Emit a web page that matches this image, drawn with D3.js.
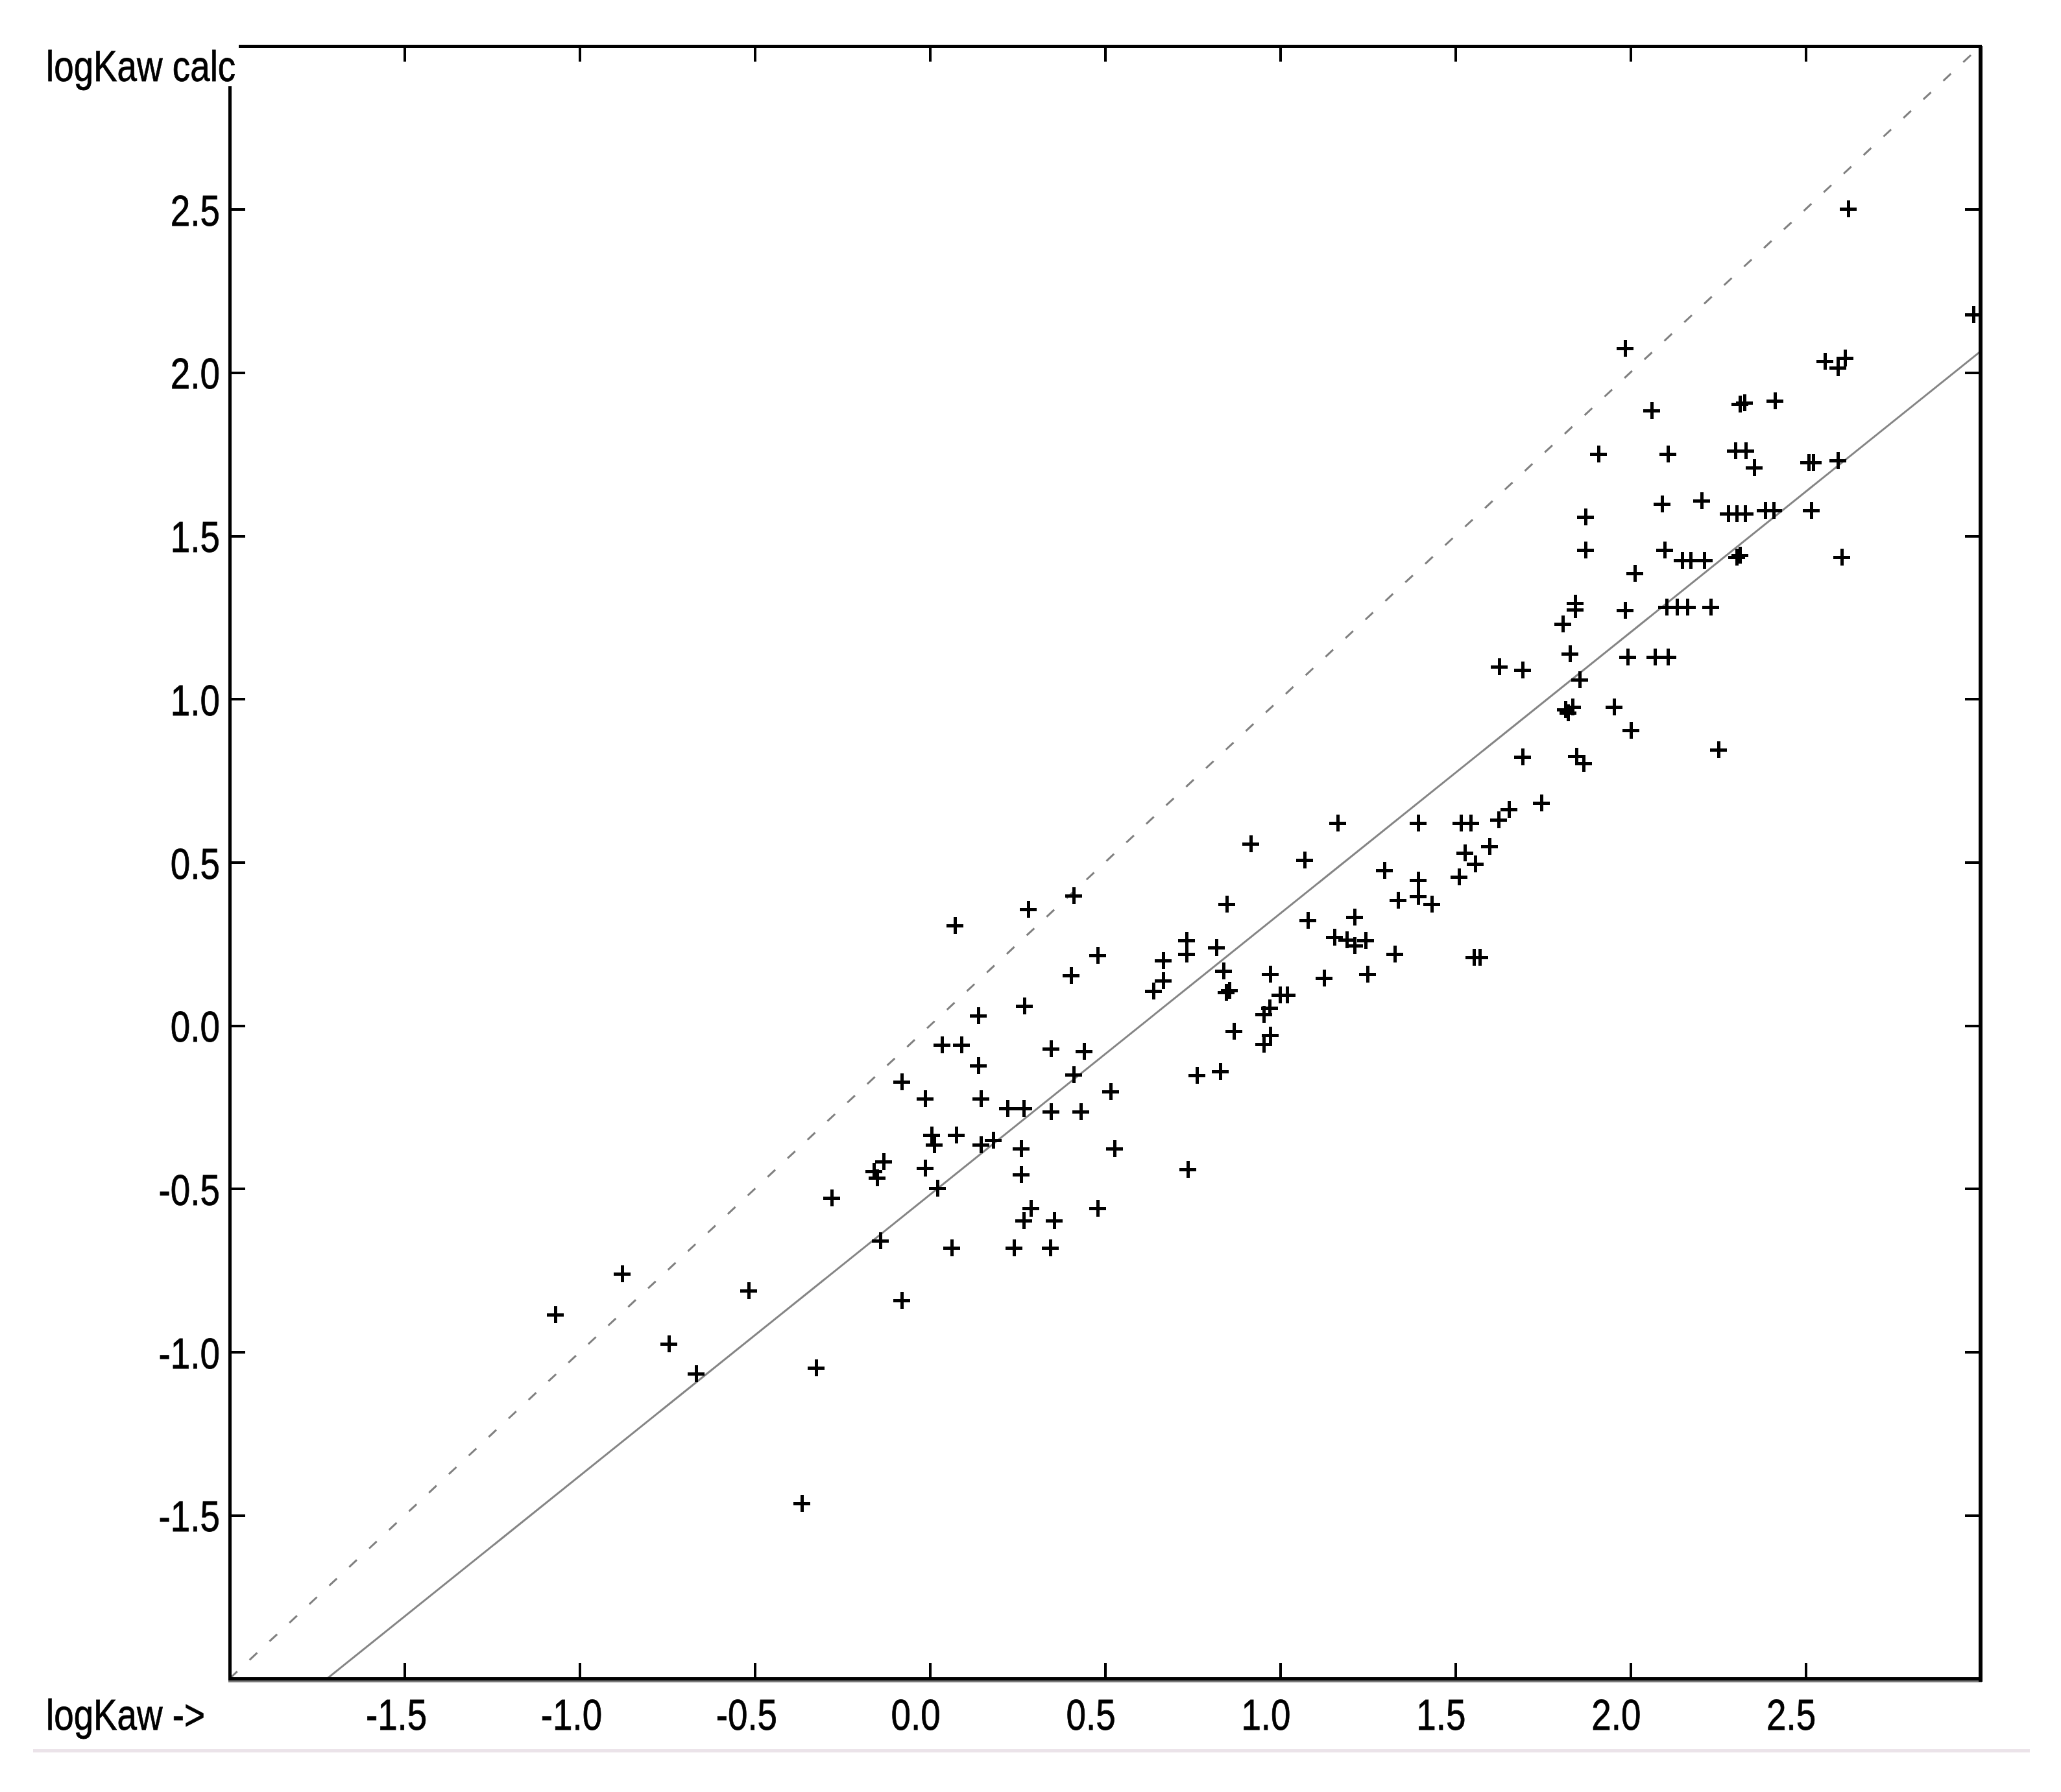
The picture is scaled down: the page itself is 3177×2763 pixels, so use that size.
<!DOCTYPE html>
<html>
<head>
<meta charset="utf-8">
<script src="https://cdn.jsdelivr.net/npm/d3@7"></script>
<style>
  html, body { margin: 0; padding: 0; background: #ffffff; }
  svg { display: block; }
  text { font-family: "Liberation Sans", Arial, sans-serif; fill: #000; stroke: #000; stroke-width: 0.8px; }
</style>
</head>
<body>
<script>
// ---------------- data ----------------
const xLabel = "logKaw ->";
const yLabel = "logKaw calc";
const xDomain = [-2, 3];
const yDomain = [-2, 3];
const xTicks = [-1.5, -1.0, -0.5, 0.0, 0.5, 1.0, 1.5, 2.0, 2.5];
const yTicks = [-1.5, -1.0, -0.5, 0.0, 0.5, 1.0, 1.5, 2.0, 2.5];
const tickLabels = ["-1.5", "-1.0", "-0.5", "0.0", "0.5", "1.0", "1.5", "2.0", "2.5"];

// regression line
const fitSlope = 0.861;
const fitIntercept = -0.518;

// logKaw (measured)
const xValues = [
  -1.07, -0.88, -0.745, -0.668, -0.518, -0.325, -0.366, -0.28, -0.133, -0.16,
  -0.152, -0.142, -0.08, -0.08, -0.015, -0.015, 0.004, 0.012, 0.022, 0.034,
  0.062, 0.072, 0.075, 0.09, 0.137, 0.137, 0.146, 0.145, 0.18, 0.222,
  0.24, 0.26, 0.26, 0.268, 0.27, 0.28, 0.268, 0.288, 0.345, 0.345,
  0.354, 0.344, 0.403, 0.41, 0.41, 0.43, 0.44, 0.478, 0.478, 0.515,
  0.526, 0.638, 0.665, 0.665, 0.736, 0.732, 0.732, 0.762, 0.817, 0.829,
  0.838, 0.848, 0.845, 0.855, 0.868, 0.915, 0.971, 0.953, 0.971, 0.97,
  0.953, 1.0, 1.02, 1.069, 1.079, 1.126, 1.164, 1.154, 1.19, 1.213,
  1.213, 1.243, 1.249, 1.298, 1.328, 1.337, 1.394, 1.394, 1.394, 1.433,
  1.516, 1.51, 1.528, 1.544, 1.557, 1.553, 1.569, 1.597, 1.624, 1.654,
  1.625, 1.693, 1.693, 1.745, 1.807, 1.815, 1.827, 1.835, 1.842, 1.842,
  1.856, 1.846, 1.866, 1.872, 1.872, 1.909, 1.953, 1.985, 1.992, 1.985,
  2.002, 2.013, 2.061, 2.07, 2.09, 2.098, 2.107, 2.107, 2.103, 2.133,
  2.148, 2.163, 2.172, 2.203, 2.211, 2.229, 2.252, 2.28, 2.303, 2.328,
  2.30, 2.303, 2.312, 2.313, 2.325, 2.33, 2.354, 2.385, 2.409, 2.413,
  2.516, 2.51, 2.522, 2.556, 2.592, 2.592, 2.604, 2.613, 2.622, 2.98,
  1.822
];
// logKaw (calculated)
const yValues = [
  -0.885, -0.76, -0.975, -1.067, -0.813, -1.048, -1.464, -0.528, -0.417, -0.447,
  -0.467, -0.66, -0.172, -0.842, -0.224, -0.436, -0.335, -0.366, -0.498, -0.06,
  -0.68, 0.306, -0.335, -0.06, 0.031, -0.122, -0.224, -0.366, -0.352, -0.253,
  -0.68, -0.457, -0.377, -0.253, 0.06, 0.356, -0.598, -0.559, -0.071, -0.263,
  -0.598, -0.68, 0.153, -0.15, 0.397, -0.263, -0.08, 0.214, -0.559, -0.203,
  -0.377, 0.106, 0.137, 0.199, -0.44, 0.261, 0.219, -0.153, 0.238, -0.141,
  0.167, 0.372, 0.102, 0.108, -0.017, 0.557, -0.029, -0.057, 0.157, 0.054,
  0.035, 0.094, 0.094, 0.507, 0.323, 0.145, 0.62, 0.27, 0.262, 0.332,
  0.245, 0.26, 0.157, 0.475, 0.218, 0.384, 0.62, 0.445, 0.396, 0.372,
  0.62, 0.455, 0.529, 0.62, 0.495, 0.209, 0.209, 0.548, 0.630, 0.662,
  1.099, 1.089, 0.823, 0.682, 1.23, 0.968, 1.139, 0.975, 1.294, 1.274,
  1.059, 0.825, 0.803, 1.456, 1.558, 1.75, 0.975, 1.272, 1.129, 2.074,
  0.904, 1.385, 1.884, 1.129, 1.598, 1.456, 1.129, 1.75, 1.282, 1.282,
  1.425, 1.282, 1.425, 1.607, 1.425, 1.282, 0.845, 1.568, 1.568, 1.568,
  1.76, 1.435, 1.44, 1.903, 1.908, 1.76, 1.709, 1.578, 1.578, 1.913,
  1.578, 1.725, 1.725, 2.035, 2.015, 1.731, 1.435, 2.044, 2.502, 2.178,
  0.958
];

// ---------------- layout ----------------
const W = 3177, H = 2763;
const plotLeft = 354, plotRight = 3053, plotTop = 71, plotBottom = 2588;
const fontPx = 66, squeeze = 0.83;

const svg = d3.select("body").append("svg")
  .attr("width", W).attr("height", H)
  .attr("viewBox", `0 0 ${W} ${H}`);

svg.append("rect").attr("width", W).attr("height", H).attr("fill", "#ffffff");

const x = d3.scaleLinear().domain(xDomain).range([plotLeft, plotRight]);
const y = d3.scaleLinear().domain(yDomain).range([plotBottom, plotTop]);

svg.append("clipPath").attr("id", "plotclip")
  .append("rect")
  .attr("x", plotLeft).attr("y", plotTop)
  .attr("width", plotRight - plotLeft).attr("height", plotBottom - plotTop);

// reference lines
const lines = svg.append("g").attr("clip-path", "url(#plotclip)");
lines.append("line")
  .attr("x1", x(xDomain[0])).attr("y1", y(xDomain[0]))
  .attr("x2", x(xDomain[1])).attr("y2", y(xDomain[1]))
  .attr("stroke", "#808080").attr("stroke-width", 3)
  .attr("stroke-dasharray", "16,26");

const fitX0 = (yDomain[0] - fitIntercept) / fitSlope;
lines.append("line")
  .attr("x1", x(fitX0)).attr("y1", y(fitSlope * fitX0 + fitIntercept))
  .attr("x2", x(xDomain[1])).attr("y2", y(fitSlope * xDomain[1] + fitIntercept))
  .attr("stroke", "#858585").attr("stroke-width", 3);

// data points as "+"
const pts = xValues.map((v, i) => [v, yValues[i]]);
const arm = 13;
const marks = svg.append("g").attr("stroke", "#000").attr("stroke-width", 5)
  .attr("shape-rendering", "crispEdges");
marks.selectAll("path.pt").data(pts).enter().append("path")
  .attr("class", "pt")
  .attr("d", d => {
    const px = Math.round(x(d[0])), py = Math.round(y(d[1]));
    return `M${px - arm},${py}H${px + arm}M${px},${py - arm}V${py + arm}`;
  });

// axes (box with inward ticks)
const tickLen = 24;
function styleAxis(g) {
  g.select(".domain").remove();
  g.selectAll(".tick line").attr("stroke", "#000").attr("stroke-width", 4)
    .attr("shape-rendering", "crispEdges");
  g.selectAll(".tick text").remove();
}
svg.append("g").attr("transform", `translate(0,${plotBottom})`)
  .call(d3.axisBottom(x).tickValues(xTicks).tickSize(-tickLen)).call(styleAxis);
svg.append("g").attr("transform", `translate(0,${plotTop})`)
  .call(d3.axisTop(x).tickValues(xTicks).tickSize(-tickLen)).call(styleAxis);
svg.append("g").attr("transform", `translate(${plotLeft},0)`)
  .call(d3.axisLeft(y).tickValues(yTicks).tickSize(-tickLen)).call(styleAxis);
svg.append("g").attr("transform", `translate(${plotRight},0)`)
  .call(d3.axisRight(y).tickValues(yTicks).tickSize(-tickLen)).call(styleAxis);

// frame
const frame = svg.append("g").attr("stroke", "#000").attr("shape-rendering", "crispEdges");
frame.append("line").attr("x1", plotLeft - 2).attr("x2", plotRight + 2)
  .attr("y1", plotTop).attr("y2", plotTop).attr("stroke-width", 5);
frame.append("line").attr("x1", plotLeft - 2).attr("x2", plotRight + 2)
  .attr("y1", plotBottom).attr("y2", plotBottom).attr("stroke-width", 5);
frame.append("line").attr("x1", plotLeft - 2).attr("x2", plotRight + 2)
  .attr("y1", plotBottom + 4).attr("y2", plotBottom + 4).attr("stroke", "#7a7a7a").attr("stroke-width", 3);
frame.append("line").attr("x1", plotLeft).attr("x2", plotLeft)
  .attr("y1", plotTop).attr("y2", plotBottom + 2).attr("stroke-width", 5);
frame.append("line").attr("x1", plotRight).attr("x2", plotRight)
  .attr("y1", plotTop).attr("y2", plotBottom + 5).attr("stroke-width", 6);

// tick labels (condensed bitmap-like font)
function sqText(g, tx, ty, str, anchor) {
  g.append("text")
    .attr("transform", `translate(${tx},${ty}) scale(${squeeze},1)`)
    .attr("text-anchor", anchor)
    .style("font-size", fontPx + "px")
    .text(str);
}
const labels = svg.append("g");
xTicks.forEach((t, i) => sqText(labels, x(t) - 60, 2667, tickLabels[i], "start"));
yTicks.forEach((t, i) => sqText(labels, plotLeft - 15, y(t) + 25, tickLabels[i], "end"));

// y axis title covering the corner
svg.append("rect").attr("x", 0).attr("y", 0).attr("width", 368).attr("height", 133)
  .attr("fill", "#ffffff");
sqText(svg, 71, 125, yLabel, "start");
sqText(svg, 71, 2667, xLabel, "start");

// faint separator line at the bottom
svg.append("rect").attr("x", 51).attr("y", 2697).attr("width", 3078).attr("height", 5)
  .attr("fill", "#ebe3e9");
</script>
</body>
</html>
